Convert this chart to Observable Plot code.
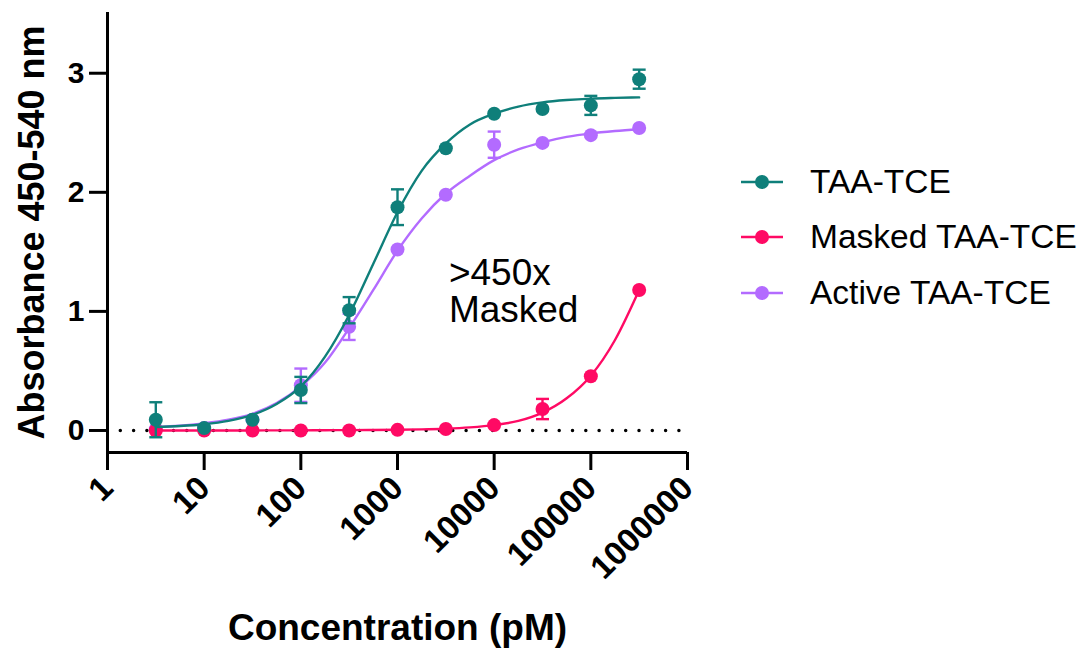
<!DOCTYPE html>
<html>
<head>
<meta charset="utf-8">
<script src="https://cdn.jsdelivr.net/npm/d3@7"></script>
<script src="https://cdn.jsdelivr.net/npm/@observablehq/plot@0.6"></script>
<style>
  body { margin: 0; background: #fff; font-family: "Liberation Sans", Arial, sans-serif; }
  #wrap { position: relative; width: 1087px; height: 652px; overflow: hidden; }
  #legend { position: absolute; left: 740px; top: 154px; }
  .row { display: flex; align-items: center; height: 55.5px; font-size: 33.5px; color: #000; white-space: nowrap; }
  .row svg { margin-right: 20px; }
</style>
</head>
<body>
<div id="wrap"><div id="legend"></div></div>
<script>
// ---- data ----
const seriesNames = ["TAA-TCE", "Masked TAA-TCE", "Active TAA-TCE"];
const seriesColors = ["#0f7f7a", "#ff0a64", "#b36bff"];

const concentrations = [3.16, 10, 31.6, 100, 316, 1000, 3162, 10000, 31623, 100000, 316228];
const taaTceMean = [0.09, 0.02, 0.09, 0.34, 1.01, 1.875, 2.37, 2.66, 2.70, 2.73, 2.95];
const taaTceSem  = [0.147, 0, 0, 0.11, 0.11, 0.15, 0, 0, 0, 0.08, 0.08];
const maskedMean = [0.0, 0.0, 0.0, 0.0, 0.0, 0.005, 0.012, 0.045, 0.18, 0.455, 1.18];
const maskedSem  = [0, 0, 0, 0, 0, 0, 0, 0, 0.085, 0, 0];
const activeMean = [0.01, 0.02, 0.09, 0.38, 0.87, 1.52, 1.98, 2.40, 2.415, 2.48, 2.54];
const activeSem  = [0, 0, 0, 0.14, 0.11, 0, 0, 0.11, 0, 0, 0];

// fitted curves, read at quarter-decade steps
const fitConc = [3.16, 5.62, 10, 17.8, 31.6, 56.2, 100, 178, 316, 562, 1000, 1778, 3162, 5623, 10000, 17783, 31623, 56234, 100000, 177828, 316228];
const taaTceFit = [0.029, 0.037, 0.052, 0.080, 0.131, 0.222, 0.370, 0.620, 0.970, 1.400, 1.833, 2.180, 2.410, 2.570, 2.660, 2.720, 2.755, 2.775, 2.787, 2.793, 2.797];
const maskedFit = [0.0, 0.0, 0.0, 0.0, 0.0, 0.001, 0.001, 0.002, 0.003, 0.004, 0.006, 0.009, 0.015, 0.026, 0.045, 0.080, 0.150, 0.270, 0.460, 0.760, 1.180];
const activeFit = [0.030, 0.040, 0.060, 0.090, 0.140, 0.230, 0.370, 0.570, 0.860, 1.180, 1.510, 1.780, 1.990, 2.140, 2.270, 2.360, 2.420, 2.465, 2.495, 2.515, 2.530];

const xTicks = [1, 10, 100, 1000, 10000, 100000, 1000000];
const yTicks = [0, 1, 2, 3];
const xDomain = [1, 1000000];
const yDomain = [-0.185, 3.51];
const xTitle = "Concentration (pM)";
const yTitle = "Absorbance 450-540 nm";
const annotationText = ">450x\nMasked";
const annotationAt = [3400, 1.45];

// ---- build tables ----
const means = [taaTceMean, maskedMean, activeMean];
const sems = [taaTceSem, maskedSem, activeSem];
const fits = [taaTceFit, maskedFit, activeFit];
const drawOrder = [2, 1, 0]; // active at the bottom, TAA-TCE on top

const font = '"Liberation Sans", Arial, sans-serif';
const capSymbol = { draw(ctx) { ctx.moveTo(-6.5, 0); ctx.lineTo(6.5, 0); } };

const marks = [
  Plot.ruleY([0], { stroke: "black", strokeWidth: 3.5, strokeDasharray: "0 13.3", strokeLinecap: "round" })
];

for (const i of drawOrder) {
  const color = seriesColors[i];
  const pts = concentrations.map((c, j) => ({ x: c, y: means[i][j], e: sems[i][j] }));
  const errs = pts.filter(d => d.e > 0);
  const curve = fitConc.map((c, j) => ({ x: c, y: fits[i][j] }));
  marks.push(
    Plot.line(curve, { x: "x", y: "y", stroke: color, strokeWidth: 2.4, curve: "monotone-x" }),
    Plot.ruleX(errs, { x: "x", y1: d => d.y - d.e, y2: d => d.y + d.e, stroke: color, strokeWidth: 2.4 }),
    Plot.dot(errs, { x: "x", y: d => d.y + d.e, symbol: capSymbol, stroke: color, strokeWidth: 2.4, fill: "none" }),
    Plot.dot(errs, { x: "x", y: d => d.y - d.e, symbol: capSymbol, stroke: color, strokeWidth: 2.4, fill: "none" }),
    Plot.dot(pts, { x: "x", y: "y", r: 7, fill: color, stroke: "none" })
  );
}

marks.push(
  Plot.ruleY([yDomain[0]], { stroke: "black", strokeWidth: 3 }),
  Plot.ruleX([xDomain[0]], { stroke: "black", strokeWidth: 3 }),
  Plot.axisX(xTicks, {
    tickSize: 18, tickPadding: 12, tickRotate: -45, tickFormat: d => String(d),
    fontSize: 33, fontWeight: "bold", strokeWidth: 3, label: null
  }),
  Plot.axisY(yTicks, {
    tickSize: 18, tickPadding: 5, tickFormat: d => String(d),
    fontSize: 30, fontWeight: "bold", strokeWidth: 3, label: null
  }),
  Plot.text([xTitle], { frameAnchor: "bottom", dy: 187, fontSize: 37, fontWeight: "bold", fill: "black" }),
  Plot.text([yTitle], { frameAnchor: "left", textAnchor: "middle", rotate: -90, dx: -75, fontSize: 36, fontWeight: "bold", fill: "black" }),
  Plot.text([annotationText], {
    x: () => annotationAt[0], y: () => annotationAt[1],
    textAnchor: "start", lineAnchor: "top", lineHeight: 1.02, fontSize: 37, fill: "black"
  })
);

const chart = Plot.plot({
  width: 1087,
  height: 652,
  marginLeft: 107,
  marginRight: 400,
  marginTop: 12,
  marginBottom: 200,
  style: { fontFamily: font, color: "black", background: "white", overflow: "visible" },
  x: { type: "log", domain: xDomain },
  y: { domain: yDomain },
  marks
});
document.getElementById("wrap").prepend(chart);

// ---- legend ----
const legend = document.getElementById("legend");
seriesNames.forEach((name, i) => {
  const row = document.createElement("div");
  row.className = "row";
  row.innerHTML = `<svg width="50" height="20"><line x1="1" x2="43" y1="10" y2="10" stroke="${seriesColors[i]}" stroke-width="2.5"/><circle cx="22" cy="10" r="7" fill="${seriesColors[i]}"/></svg><span>${name}</span>`;
  legend.appendChild(row);
});
</script>
</body>
</html>
